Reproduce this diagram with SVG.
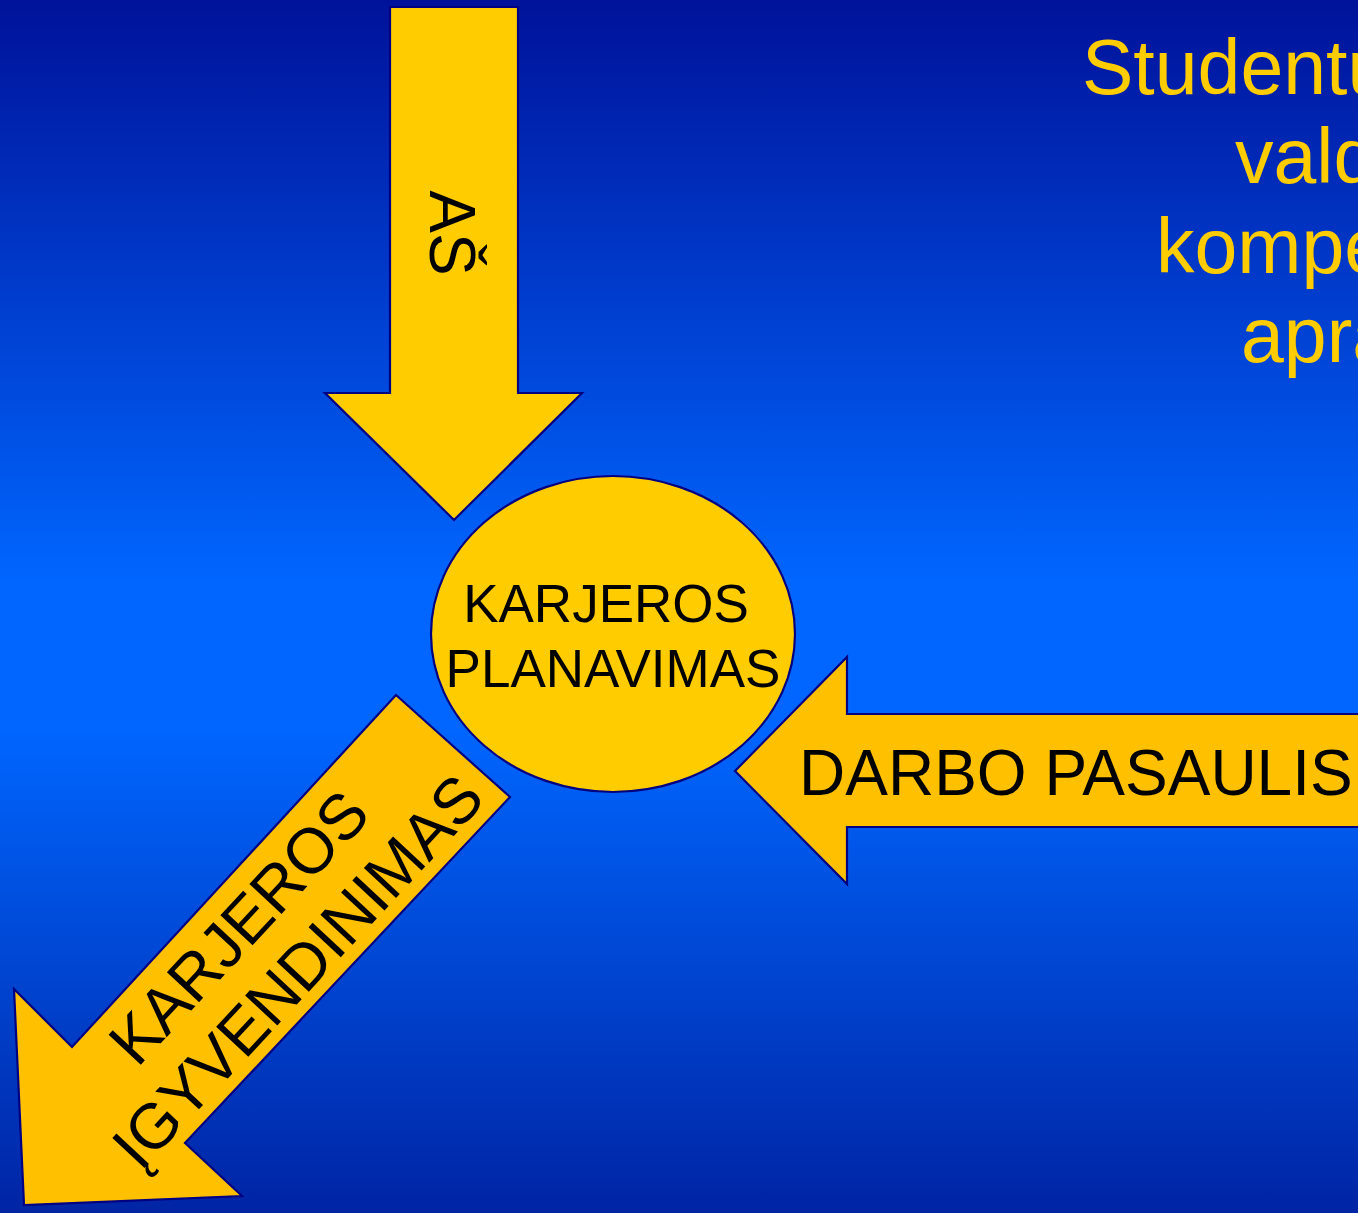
<svg xmlns="http://www.w3.org/2000/svg" width="1358" height="1213" viewBox="0 0 1358 1213">
  <defs>
    <linearGradient id="bg" x1="0" y1="0" x2="0" y2="1">
      <stop offset="0" stop-color="#00129a"/>
      <stop offset="0.48" stop-color="#0066ff"/>
      <stop offset="0.6" stop-color="#0066ff"/>
      <stop offset="1" stop-color="#0024a4"/>
    </linearGradient>
  </defs>
  <style>
    .shape { stroke: #000080; stroke-width: 2.2; stroke-linejoin: miter; }
    .y1 { fill: #FFCC00; }
    .y2 { fill: #FFC000; }
    .lbl { font-family: "Liberation Sans", Arial, sans-serif; fill: #000000; }
    .title { font-family: "Liberation Sans", Arial, sans-serif; fill: #FFCC00; font-size: 77px; }
  </style>
  <rect x="0" y="0" width="1358" height="1213" fill="url(#bg)"/>

  <g id="title">
    <text class="title" x="1082" y="94">Studentu</text>
    <text class="title" x="1235" y="183">vald</text>
    <text class="title" x="1156" y="273">kompe</text>
    <text class="title" x="1241" y="362">apra</text>
  </g>

  <g id="connectors">
    <g id="arrow-as">
      <polygon class="shape y1" points="390,7 518,7 518,393 582,393 454,520 325,393 390,393"/>
      <text class="lbl" font-size="64" text-anchor="middle" transform="translate(430,233) rotate(90)">AŠ</text>
    </g>
    <g id="arrow-darbo">
      <polygon class="shape y2" points="1362,714 847,714 847,657 735,771 847,884 847,827 1362,827"/>
      <text class="lbl" font-size="64" x="799" y="795">DARBO PASAULIS</text>
    </g>
    <g id="arrow-igyvendinimas">
      <polygon class="shape y2" points="396,695 510,797 185,1143 242,1196 24,1205 14,989 72,1047"/>
      <g transform="translate(284,964) rotate(-47)">
        <text class="lbl" font-size="64" text-anchor="middle" x="-4" y="-36">KARJEROS</text>
        <text class="lbl" font-size="64" text-anchor="middle" x="4" y="37">ĮGYVENDINIMAS</text>
      </g>
    </g>
  </g>

  <g id="node-planavimas">
    <ellipse class="shape y1" cx="613" cy="634" rx="182" ry="158"/>
    <text class="lbl" font-size="53" text-anchor="middle" x="606" y="622">KARJEROS</text>
    <text class="lbl" font-size="53" text-anchor="middle" x="613" y="687">PLANAVIMAS</text>
  </g>
</svg>
